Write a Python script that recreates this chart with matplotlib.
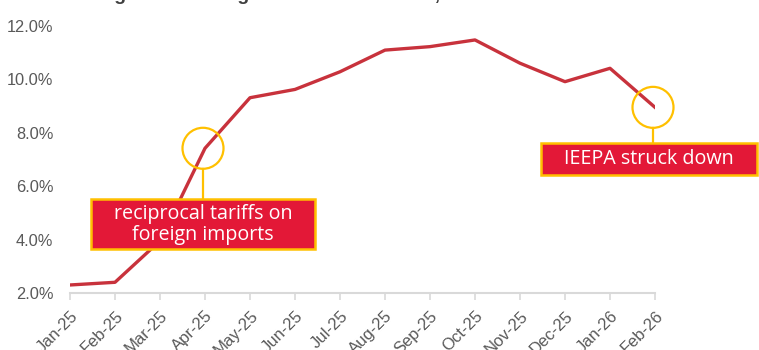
import matplotlib.pyplot as plt
import matplotlib.transforms as mtransforms
from matplotlib.patches import Rectangle, Circle
from matplotlib.lines import Line2D

# effective tariff rate, monthly
months = ['Jan-25', 'Feb-25', 'Mar-25', 'Apr-25', 'May-25', 'Jun-25', 'Jul-25',
          'Aug-25', 'Sep-25', 'Oct-25', 'Nov-25', 'Dec-25', 'Jan-26', 'Feb-26']
rate = [2.30, 2.40, 3.95, 7.41, 9.30, 9.61, 10.27,
        11.08, 11.21, 11.46, 10.59, 9.90, 10.40, 8.94]
yticks = [2, 4, 6, 8, 10, 12]

# callouts: month index, text, box (left, right, top, bottom) in px from the point
callouts = [
    (3, 'reciprocal tariffs on\nforeign imports', (-114, 110, -51, -101)),
    (13, 'IEEPA struck down', (-114, 102, -36, -68)),
]

line_red = '#C8323C'
box_red = '#E31837'
gold = '#FFC000'
grey = '#595959'

plt.rcParams['font.family'] = ['Liberation Sans', 'DejaVu Sans']

fig = plt.figure(figsize=(7.59, 3.5), dpi=100)
ax = fig.add_axes([70 / 759, 1 - 293 / 350, 585 / 759, 267.5 / 350])

x = list(range(len(months)))
ax.plot(x, rate, color=line_red, lw=2.4, solid_joinstyle='round', zorder=3)

ax.set_xlim(0, len(months) - 1)
ax.set_ylim(2, 12)
ax.set_yticks(yticks)
ax.set_yticklabels(['%.1f%%' % v for v in yticks])
ax.set_xticks(x)
ax.set_xticklabels(months, rotation=45, ha='right', rotation_mode='anchor')

for s in ['top', 'right', 'left']:
    ax.spines[s].set_visible(False)
ax.spines['bottom'].set_color('#D9D9D9')
ax.spines['bottom'].set_linewidth(1.5)
ax.tick_params(axis='y', length=0, pad=12, labelsize=11.8, labelcolor=grey)
ax.tick_params(axis='x', length=5, width=1.2, color='#D9D9D9', pad=6,
               labelsize=12, labelcolor=grey)

# circles, stems and labelled boxes, sized in pixels around each point
for i, text, (l, r, t, b) in callouts:
    tr = fig.dpi_scale_trans + mtransforms.ScaledTranslation(i, rate[i], ax.transData)
    rad = 20.5 / 100
    ax.add_artist(Circle((-0.02, 0.0), rad, transform=tr, fill=False,
                         ec=gold, lw=1.6, clip_on=False, zorder=4))
    ax.add_artist(Line2D([-0.02, -0.02], [-rad, t / 100], transform=tr,
                         color=gold, lw=1.6, clip_on=False, zorder=4))
    ax.add_artist(Rectangle((l / 100, b / 100), (r - l) / 100, (t - b) / 100,
                            transform=tr, fc=box_red, ec=gold, lw=1.8,
                            clip_on=False, zorder=5))
    ax.text((l + r) / 200, (t + b) / 200, text, transform=tr, ha='center',
            va='center', color='white', fontsize=14.2, family='Open Sans',
            linespacing=1.1, zorder=6, clip_on=False)

# chart heading, mostly above the top edge
fig.text(97 / 759, 1.0, 'Figure 4: Average effective tariff rate, U.S.',
         ha='left', va='baseline', fontsize=14, fontweight='bold', color='#404040')

fig.savefig('out.png', dpi=100)
